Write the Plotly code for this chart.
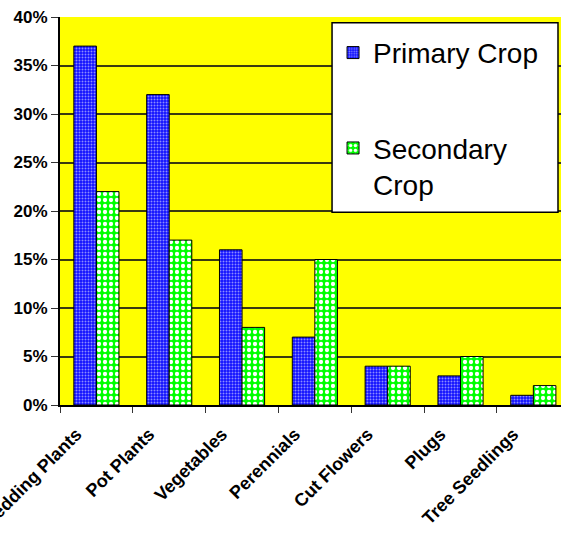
import plotly.graph_objects as go

# Crop categories and the share of growers naming each as primary / secondary crop (%)
categories = ["Bedding Plants", "Pot Plants", "Vegetables", "Perennials",
              "Cut Flowers", "Plugs", "Tree Seedlings"]
primary_crop = [37, 32, 16, 7, 4, 3, 1]
secondary_crop = [22, 17, 8, 15, 4, 5, 2]
y_ticks = [0, 5, 10, 15, 20, 25, 30, 35, 40]
y_tick_labels = ["0%", "5%", "10%", "15%", "20%", "25%", "30%", "35%", "40%"]

FONT = "Arial, Liberation Sans, sans-serif"

fig = go.Figure()
fig.add_trace(go.Bar(
    x=categories, y=primary_crop, name="Primary Crop",
    legendgroup="a",
    marker=dict(color="#1010ff", line=dict(color="black", width=1),
                pattern=dict(shape=".", fillmode="replace", bgcolor="#1010ff",
                             fgcolor="#8c8cff", size=3, solidity=0.35)),
))
fig.add_trace(go.Bar(
    x=categories, y=secondary_crop, name="Secondary<br>Crop",
    legendgroup="b",
    marker=dict(color="#00ff00", line=dict(color="black", width=1),
                pattern=dict(shape=".", fillmode="replace", bgcolor="#00ff00",
                             fgcolor="#ffffff", size=6, solidity=0.4)),
))

# white legend frame
fig.add_shape(type="rect", xref="paper", yref="paper",
              x0=0.543, x1=0.994, y0=0.497, y1=0.985,
              fillcolor="white", line=dict(color="black", width=1.5), layer="above")

fig.update_layout(
    width=561, height=537,
    margin=dict(l=60, r=0, t=17, b=132),
    paper_bgcolor="white", plot_bgcolor="#ffff00",
    barmode="group", bargap=0.38, bargroupgap=0,
    font=dict(family=FONT, color="black"),
    showlegend=True,
    legend=dict(x=0.545, y=0.972, xanchor="left", yanchor="top",
                bgcolor="rgba(0,0,0,0)", borderwidth=0,
                font=dict(size=28, family=FONT), tracegroupgap=56,
                valign="top"),
)
fig.update_xaxes(
    range=[-0.5, 6.38], automargin=False,
    showline=True, linecolor="black", linewidth=1.5,
    ticks="outside", tickson="boundaries", ticklen=6, tickcolor="#333",
    tickangle=-45, tickfont=dict(size=18, family=FONT, weight="bold"),
    ticklabelshift=-20, ticklabelstandoff=10,
    showgrid=False, fixedrange=True,
)
fig.update_yaxes(
    range=[0, 40], tickvals=y_ticks, ticktext=y_tick_labels, automargin=False,
    showline=True, linecolor="black", linewidth=2,
    ticks="outside", ticklen=7, tickcolor="#333",
    tickfont=dict(size=17, family=FONT, weight="bold"),
    showgrid=True, gridcolor="#3a3a10", gridwidth=1.6,
    zeroline=False, fixedrange=True,
)

fig.write_html("out.html")
